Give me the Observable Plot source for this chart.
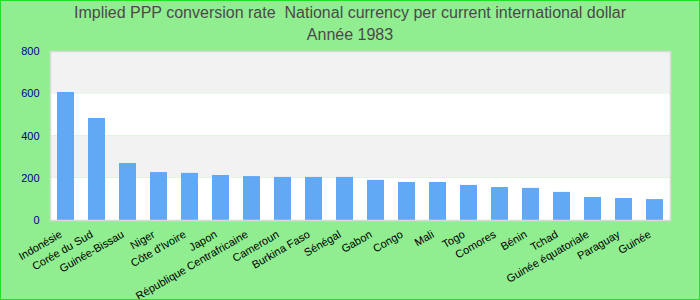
<!DOCTYPE html>
<html>
<head>
<meta charset="utf-8">
<script src="https://cdn.jsdelivr.net/npm/d3@7"></script>
<script src="https://cdn.jsdelivr.net/npm/@observablehq/plot@0.6"></script>
<style>
  html, body { margin: 0; padding: 0; }
  #wrap { position: relative; width: 700px; height: 300px; background: #90ee90; overflow: hidden; font-family: "Liberation Sans", Arial, sans-serif; }
  #border { position: absolute; left: 0; top: 0; width: 700px; height: 300px; box-sizing: border-box; border: 1px solid #22e022; pointer-events: none; }
  #title { position: absolute; left: 0; top: 2px; width: 700px; text-align: center; color: #4a4a4a; font-size: 16px; line-height: 22px; }
  #chart { position: absolute; left: 0; top: 46px; }
</style>
</head>
<body>
<div id="wrap">
  <div id="title">Implied PPP conversion rate&nbsp; National currency per current international dollar<br>Année 1983</div>
  <div id="chart"></div>
  <div id="border"></div>
</div>
<script>
const countries = ["Indonésie", "Corée du Sud", "Guinée-Bissau", "Niger", "Côte d'Ivoire", "Japon", "République Centrafricaine", "Cameroun", "Burkina Faso", "Sénégal", "Gabon", "Congo", "Mali", "Togo", "Comores", "Bénin", "Tchad", "Guinée équatoriale", "Paraguay", "Guinée"];
const values = [606, 483, 270, 227, 223, 213, 208, 204, 204, 204, 190, 180, 180, 166, 156, 152, 133, 109, 104, 99];
const yTicks = [0, 200, 400, 600, 800];
const stripeStarts = [0, 200, 400, 600];

const data = countries.map((c, i) => ({country: c, value: values[i]}));
const stripes = stripeStarts.map((s, i) => ({y1: s, y2: s + 200, alt: i % 2 === 1}));

const chart = Plot.plot({
  width: 700,
  height: 254,
  marginLeft: 50,
  marginRight: 30,
  marginTop: 5,
  marginBottom: 80,
  style: {fontFamily: "'Liberation Sans', Arial, sans-serif", fontSize: "11px", background: "transparent"},
  x: {domain: countries, paddingInner: 0.45, paddingOuter: 0.225, label: null},
  y: {domain: [0, 800], label: null},
  marks: [
    Plot.rect(stripes.filter(d => !d.alt), {y1: "y1", y2: "y2", fill: "white"}),
    Plot.rect(stripes.filter(d => d.alt), {y1: "y1", y2: "y2", fill: "#f2f2f2"}),
    Plot.barY(data, {x: "country", y: "value", fill: "#61a9f5"}),
    Plot.frame({stroke: "#d9d9d9", strokeWidth: 1.5}),
    Plot.axisY({ticks: yTicks, tickSize: 0, tickPadding: 11, fill: "#00008b", fontSize: 11, label: null}),
    Plot.axisX({tickSize: 0, tickPadding: 10, tickRotate: -30, dx: -5, dy: 3, fill: "black", fontSize: 11, label: null})
  ]
});
document.getElementById("chart").appendChild(chart);
</script>
</body>
</html>
